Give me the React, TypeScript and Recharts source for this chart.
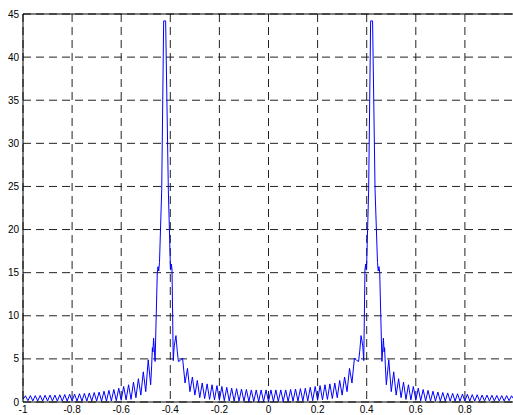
import { LineChart, Line, XAxis, YAxis, CartesianGrid, ReferenceLine } from 'recharts'

// Magnitude spectrum, normalised frequency -1..1.
// Skirts are sampled on an even 0.01 grid; the two main lobes are listed point by point.
const gridStep = 0.01

const outerLeftStart = -1
const outerLeftMag = [
  0.3, 0.72, 0.15, 0.74, 0.12, 0.74, 0.12, 0.76, 0.12, 0.78,
  0.12, 0.8, 0.12, 0.8, 0.1, 0.84, 0.1, 0.86, 0.1, 0.9,
  0.1, 0.92, 0.1, 0.96, 0.1, 1.0, 0.1, 1.05, 0.1, 1.1,
  0.1, 1.15, 0.1, 1.25, 0.1, 1.35, 0.12, 1.45, 0.15, 1.6,
  0.2, 1.8, 0.25, 2.0, 0.3, 2.3, 0.5, 2.7, 0.8, 3.5,
  1.2, 4.9, 2.0,
]

const leftLobeFreq = [
  -0.476, -0.473, -0.471, -0.468, -0.462, -0.453, -0.45, -0.447, -0.444, -0.435,
  -0.427, -0.419, -0.408, -0.4, -0.398, -0.396, -0.393, -0.388, -0.384, -0.377,
  -0.372, -0.367,
]
const leftLobeMag = [
  4.2, 6.3, 5.8, 7.4, 4.7, 15.0, 15.7, 15.2, 16.2, 24.6,
  44.2, 44.2, 24.6, 16.1, 15.3, 16.0, 15.4, 4.8, 6.5, 7.7,
  6.0, 4.7,
]

const middleStart = -0.36
const middleMag = [
  4.8, 5.1, 2.2, 3.9, 1.2, 2.9, 0.8, 2.5, 0.5, 2.2,
  0.4, 2.1, 0.3, 2.0, 0.25, 1.9, 0.2, 1.8, 0.15, 1.7,
  0.12, 1.6, 0.1, 1.55, 0.1, 1.5, 0.08, 1.45, 0.05, 1.4,
  0.05, 1.4, 0.05, 1.4, 0.05, 1.4, 0.05, 1.4, 0.05, 1.4,
  0.05, 1.4, 0.05, 1.4, 0.05, 1.45, 0.08, 1.5, 0.1, 1.55,
  0.1, 1.6, 0.12, 1.7, 0.15, 1.8, 0.2, 1.9, 0.25, 2.0,
  0.3, 2.1, 0.4, 2.2, 0.5, 2.5, 0.8, 2.9, 1.2, 3.9,
  2.2, 5.1, 4.8,
]

const rightLobeFreq = [
  0.367, 0.372, 0.377, 0.384, 0.388, 0.393, 0.396, 0.398, 0.4, 0.408,
  0.416, 0.424, 0.434, 0.444, 0.447, 0.45, 0.453, 0.462, 0.468, 0.471,
  0.473, 0.476,
]
const rightLobeMag = [
  4.7, 6.0, 7.7, 6.5, 4.8, 15.4, 16.0, 15.3, 16.1, 24.6,
  44.2, 44.2, 24.6, 16.2, 15.2, 15.7, 15.0, 4.7, 7.4, 5.8,
  6.3, 4.2,
]

const outerRightStart = 0.48
const outerRightMag = [
  2.0, 4.9, 1.2, 3.5, 0.8, 2.7, 0.5, 2.3, 0.3, 2.0,
  0.25, 1.8, 0.2, 1.6, 0.15, 1.45, 0.12, 1.35, 0.1, 1.25,
  0.1, 1.15, 0.1, 1.1, 0.1, 1.05, 0.1, 1.0, 0.1, 0.96,
  0.1, 0.92, 0.1, 0.9, 0.1, 0.86, 0.1, 0.84, 0.1, 0.8,
  0.12, 0.8, 0.12, 0.78, 0.12, 0.76, 0.12, 0.74, 0.12, 0.74,
  0.15, 0.72, 0.3,
]

const xTicks = [-1, -0.8, -0.6, -0.4, -0.2, 0, 0.2, 0.4, 0.6, 0.8]
const yTicks = [0, 5, 10, 15, 20, 25, 30, 35, 40, 45]

const gridPoints = (start: number, mags: number[]) =>
  mags.map((m, i) => ({ f: +(start + i * gridStep).toFixed(3), mag: m }))

const lobePoints = (freqs: number[], mags: number[]) =>
  freqs.map((f, i) => ({ f, mag: mags[i] }))

const data = [
  ...gridPoints(outerLeftStart, outerLeftMag),
  ...lobePoints(leftLobeFreq, leftLobeMag),
  ...gridPoints(middleStart, middleMag),
  ...lobePoints(rightLobeFreq, rightLobeMag),
  ...gridPoints(outerRightStart, outerRightMag),
].sort((a, b) => a.f - b.f)

const tickStyle = { fontSize: 10, fill: '#000', fontFamily: 'Liberation Sans, Arial, sans-serif' }

export default function App() {
  return (
    <div style={{ position: 'absolute', left: 0, top: 0, background: '#fff' }}>
      <LineChart width={520} height={415} data={data} margin={{ top: 14, right: 6, left: 0, bottom: 0 }}>
        <CartesianGrid stroke="#222" strokeDasharray="8 5" />
        <XAxis
          dataKey="f"
          type="number"
          domain={[-1, 1]}
          ticks={xTicks}
          interval={0}
          height={13}
          tickLine={false}
          tickSize={3}
          tickMargin={1}
          axisLine={{ stroke: '#000' }}
          tick={tickStyle}
        />
        <YAxis
          type="number"
          domain={[0, 45]}
          ticks={yTicks}
          interval={0}
          width={23}
          tickLine={false}
          tickSize={2}
          tickMargin={2}
          axisLine={{ stroke: '#000' }}
          tick={tickStyle}
        />
        <ReferenceLine y={45} stroke="#000" />
        <ReferenceLine x={1} stroke="#000" />
        <Line
          type="linear"
          dataKey="mag"
          stroke="#0000ff"
          strokeWidth={1}
          dot={false}
          isAnimationActive={false}
        />
      </LineChart>
    </div>
  )
}
